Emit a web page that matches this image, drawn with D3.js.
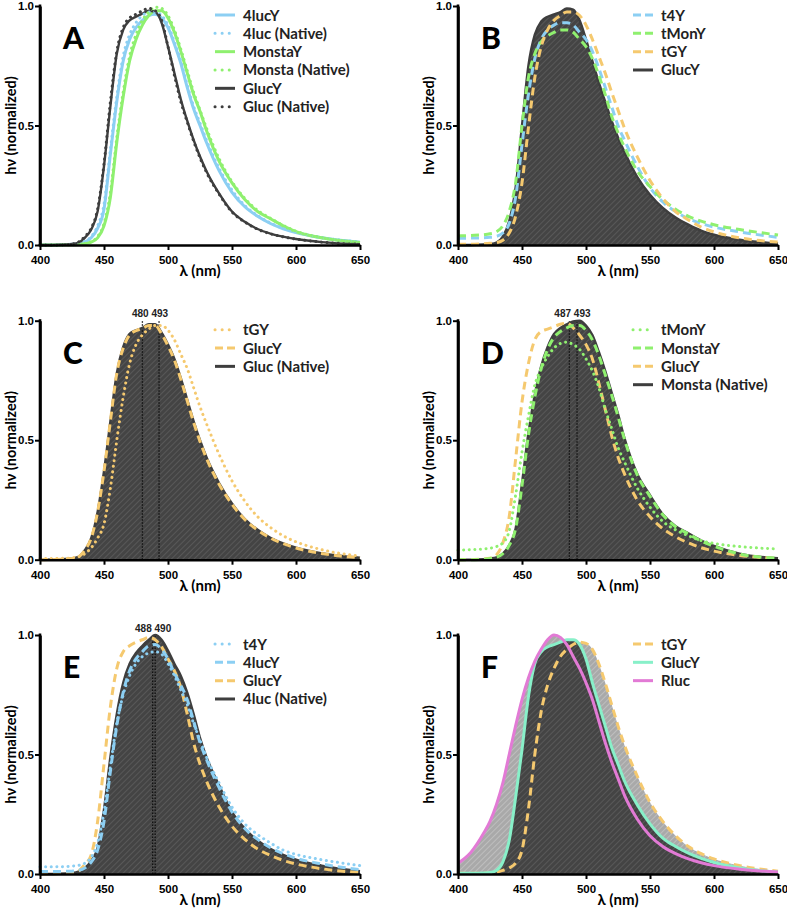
<!DOCTYPE html>
<html><head><meta charset="utf-8">
<script src="https://cdn.jsdelivr.net/npm/d3@7"></script>
<style>body{margin:0;background:#fff;} svg{display:block;}</style>
</head><body><svg id="chart" width="787" height="914"></svg>
<script>
// ---- data ----
const wavelengths = [400,410,420,425,430,435,440,445,450,455,460,465,470,475,480,485,490,495,500,505,510,515,520,525,530,540,550,560,570,580,590,600,620,650];
const xTicks = [400,450,500,550,600,650];
const yTicks = [0,0.5,1.0];
const panelLetters = ["A","B","C","D","E","F"];

// Panel A
const A_4lucY      = [0,0,0.002,0.003,0.005,0.012,0.03,0.07,0.15,0.38,0.6,0.77,0.86,0.91,0.94,0.96,0.965,0.95,0.91,0.84,0.76,0.66,0.57,0.5,0.43,0.31,0.22,0.16,0.12,0.09,0.068,0.052,0.03,0.012];
const A_4lucNative = [0,0,0.002,0.003,0.006,0.015,0.035,0.08,0.17,0.4,0.62,0.79,0.88,0.93,0.96,0.975,0.975,0.96,0.92,0.85,0.77,0.67,0.58,0.51,0.44,0.32,0.23,0.165,0.123,0.092,0.07,0.054,0.031,0.013];
const A_MonstaY    = [0,0,0.001,0.001,0.002,0.005,0.012,0.03,0.08,0.2,0.43,0.62,0.77,0.86,0.92,0.96,0.98,0.98,0.95,0.89,0.81,0.72,0.63,0.56,0.48,0.35,0.26,0.19,0.14,0.11,0.08,0.056,0.03,0.01];
const A_MonstaNative = [0,0,0.001,0.001,0.003,0.006,0.014,0.035,0.09,0.22,0.45,0.64,0.79,0.88,0.94,0.975,0.995,0.99,0.96,0.9,0.82,0.73,0.64,0.565,0.49,0.36,0.265,0.195,0.145,0.112,0.082,0.058,0.031,0.011];
const A_GlucY      = [0,0,0.002,0.004,0.01,0.03,0.065,0.14,0.33,0.58,0.8,0.9,0.94,0.955,0.968,0.98,0.975,0.93,0.83,0.72,0.61,0.52,0.44,0.37,0.31,0.215,0.14,0.097,0.067,0.048,0.035,0.025,0.012,0.003];
const A_GlucNative = [0,0,0.002,0.004,0.012,0.035,0.07,0.15,0.34,0.6,0.81,0.91,0.95,0.965,0.98,0.99,0.98,0.94,0.83,0.71,0.6,0.515,0.435,0.365,0.305,0.212,0.138,0.096,0.066,0.047,0.034,0.025,0.012,0.003];

// Panel B
const B_t4Y   = [0.028,0.029,0.03,0.032,0.036,0.05,0.09,0.2,0.42,0.63,0.78,0.86,0.9,0.92,0.93,0.93,0.92,0.89,0.86,0.81,0.74,0.66,0.58,0.5,0.44,0.33,0.24,0.18,0.14,0.11,0.09,0.075,0.055,0.032];
const B_tMonY = [0.038,0.04,0.043,0.047,0.055,0.08,0.14,0.26,0.5,0.7,0.8,0.85,0.875,0.89,0.9,0.9,0.89,0.86,0.83,0.78,0.71,0.63,0.54,0.47,0.41,0.31,0.245,0.19,0.15,0.12,0.1,0.085,0.065,0.042];
const B_tGY   = [0.003,0.003,0.005,0.007,0.01,0.02,0.05,0.12,0.26,0.49,0.7,0.83,0.9,0.94,0.96,0.975,0.975,0.96,0.92,0.86,0.79,0.72,0.64,0.565,0.49,0.37,0.27,0.195,0.14,0.105,0.075,0.055,0.03,0.012];
const B_GlucY = [0,0,0.002,0.004,0.01,0.035,0.1,0.24,0.5,0.75,0.88,0.935,0.955,0.965,0.975,0.99,0.985,0.94,0.86,0.77,0.68,0.6,0.52,0.45,0.39,0.285,0.21,0.155,0.115,0.085,0.06,0.043,0.022,0.006];

// Panel C
const C_tGY        = [0.005,0.005,0.006,0.008,0.012,0.025,0.05,0.09,0.15,0.3,0.5,0.68,0.82,0.9,0.94,0.965,0.98,0.98,0.96,0.92,0.86,0.8,0.72,0.64,0.57,0.44,0.33,0.245,0.18,0.135,0.1,0.075,0.042,0.015];
const C_GlucY      = [0,0.001,0.003,0.005,0.012,0.04,0.09,0.2,0.37,0.58,0.78,0.885,0.94,0.958,0.968,0.98,0.98,0.945,0.895,0.835,0.755,0.665,0.575,0.495,0.425,0.315,0.232,0.168,0.124,0.091,0.067,0.049,0.026,0.008];
const C_GlucNative = [0,0.001,0.003,0.005,0.012,0.04,0.09,0.2,0.37,0.58,0.78,0.89,0.945,0.96,0.97,0.985,0.985,0.95,0.9,0.84,0.76,0.67,0.58,0.5,0.43,0.32,0.235,0.17,0.125,0.092,0.068,0.05,0.027,0.008];
const C_peaks = [480,493];

// Panel D
const D_tMonY   = [0.04,0.042,0.045,0.048,0.055,0.07,0.12,0.27,0.45,0.6,0.73,0.8,0.85,0.885,0.905,0.91,0.9,0.88,0.84,0.79,0.72,0.63,0.55,0.47,0.41,0.3,0.22,0.16,0.125,0.1,0.08,0.068,0.055,0.045];
const D_MonstaY = [0,0,0.002,0.005,0.01,0.025,0.06,0.13,0.31,0.52,0.68,0.8,0.88,0.93,0.955,0.97,0.98,0.98,0.96,0.92,0.855,0.775,0.69,0.6,0.505,0.355,0.265,0.188,0.138,0.108,0.078,0.056,0.024,0.006];
const D_GlucY   = [0,0.001,0.003,0.006,0.02,0.07,0.18,0.42,0.66,0.82,0.92,0.955,0.965,0.975,0.985,0.99,0.97,0.94,0.9,0.84,0.74,0.63,0.52,0.43,0.36,0.25,0.18,0.13,0.096,0.07,0.05,0.036,0.018,0.005];
const D_MonstaNative = [0,0,0.002,0.005,0.01,0.025,0.06,0.13,0.32,0.53,0.69,0.81,0.89,0.945,0.97,0.985,0.997,1.0,0.98,0.94,0.87,0.79,0.7,0.61,0.51,0.36,0.27,0.19,0.14,0.11,0.08,0.058,0.025,0.006];
const D_peaks = [487,493];

// Panel E
const E_t4Y   = [0.03,0.03,0.031,0.033,0.036,0.045,0.07,0.13,0.26,0.45,0.63,0.75,0.83,0.88,0.91,0.925,0.93,0.92,0.88,0.83,0.77,0.71,0.63,0.56,0.49,0.38,0.28,0.21,0.165,0.13,0.1,0.082,0.06,0.035];
const E_4lucY = [0.01,0.01,0.011,0.012,0.015,0.025,0.05,0.1,0.22,0.43,0.62,0.76,0.85,0.9,0.93,0.955,0.96,0.94,0.9,0.84,0.79,0.73,0.64,0.55,0.48,0.36,0.26,0.19,0.145,0.11,0.085,0.066,0.042,0.018];
const E_GlucY = [0,0.001,0.003,0.005,0.012,0.04,0.08,0.22,0.46,0.7,0.86,0.93,0.955,0.97,0.98,0.99,0.98,0.95,0.9,0.85,0.78,0.67,0.55,0.46,0.39,0.28,0.2,0.145,0.105,0.078,0.057,0.042,0.022,0.006];
const E_4lucNative = [0,0,0.002,0.004,0.01,0.025,0.055,0.11,0.27,0.49,0.67,0.8,0.88,0.925,0.955,0.98,1.0,0.98,0.935,0.88,0.83,0.76,0.67,0.57,0.49,0.37,0.26,0.19,0.14,0.105,0.08,0.06,0.035,0.012];
const E_peaks = [488,490];

// Panel F
const F_tGY   = [0.003,0.003,0.004,0.005,0.008,0.015,0.025,0.045,0.1,0.27,0.5,0.68,0.79,0.86,0.91,0.94,0.96,0.97,0.965,0.94,0.88,0.8,0.71,0.62,0.54,0.41,0.3,0.22,0.16,0.115,0.085,0.063,0.035,0.012];
const F_GlucY = [0.003,0.003,0.004,0.006,0.015,0.05,0.14,0.32,0.52,0.74,0.88,0.93,0.95,0.96,0.97,0.98,0.98,0.96,0.9,0.8,0.71,0.62,0.53,0.46,0.39,0.29,0.21,0.15,0.115,0.087,0.065,0.048,0.025,0.008];
const F_Rluc  = [0.045,0.09,0.17,0.22,0.29,0.38,0.5,0.62,0.73,0.82,0.89,0.94,0.98,1.0,0.99,0.96,0.91,0.86,0.8,0.73,0.64,0.55,0.47,0.4,0.33,0.23,0.16,0.115,0.085,0.063,0.047,0.035,0.02,0.008];

// ---- styles ----
const COLORS = {blue:"#8ccff3", green:"#8ff06f", yellow:"#f5c96f", dark:"#3e3e3e", teal:"#88f0c9", pink:"#e27ad5"};
const DASH = {solid:null, dashed:"8,5", dotted:"0.1,5.5"};

const panels = [
  {letter:panelLetters[0], col:0, row:0, fills:[], peaks:[],
   series:[
     {name:"4lucY", data:A_4lucY, color:"blue", style:"solid"},
     {name:"MonstaY", data:A_MonstaY, color:"green", style:"solid"},
     {name:"GlucY", data:A_GlucY, color:"dark", style:"solid"},
     {name:"4luc (Native)", data:A_4lucNative, color:"blue", style:"dotted"},
     {name:"Monsta (Native)", data:A_MonstaNative, color:"green", style:"dotted"},
     {name:"Gluc (Native)", data:A_GlucNative, color:"dark", style:"dotted"}],
   legend:["4lucY","4luc (Native)","MonstaY","Monsta (Native)","GlucY","Gluc (Native)"]},
  {letter:panelLetters[1], col:1, row:0, fills:[{data:B_GlucY, kind:"dark"}], peaks:[],
   series:[
     {name:"GlucY", data:B_GlucY, color:"dark", style:"solid"},
     {name:"t4Y", data:B_t4Y, color:"blue", style:"dashed"},
     {name:"tMonY", data:B_tMonY, color:"green", style:"dashed"},
     {name:"tGY", data:B_tGY, color:"yellow", style:"dashed"}],
   legend:["t4Y","tMonY","tGY","GlucY"]},
  {letter:panelLetters[2], col:0, row:1, fills:[{data:C_GlucNative, kind:"dark"}], peaks:C_peaks,
   series:[
     {name:"Gluc (Native)", data:C_GlucNative, color:"dark", style:"solid"},
     {name:"GlucY", data:C_GlucY, color:"yellow", style:"dashed"},
     {name:"tGY", data:C_tGY, color:"yellow", style:"dotted"}],
   legend:["tGY","GlucY","Gluc (Native)"]},
  {letter:panelLetters[3], col:1, row:1, fills:[{data:D_MonstaNative, kind:"dark"}], peaks:D_peaks,
   series:[
     {name:"Monsta (Native)", data:D_MonstaNative, color:"dark", style:"solid"},
     {name:"GlucY", data:D_GlucY, color:"yellow", style:"dashed"},
     {name:"MonstaY", data:D_MonstaY, color:"green", style:"dashed"},
     {name:"tMonY", data:D_tMonY, color:"green", style:"dotted"}],
   legend:["tMonY","MonstaY","GlucY","Monsta (Native)"]},
  {letter:panelLetters[4], col:0, row:2, fills:[{data:E_4lucNative, kind:"dark"}], peaks:E_peaks,
   series:[
     {name:"4luc (Native)", data:E_4lucNative, color:"dark", style:"solid"},
     {name:"GlucY", data:E_GlucY, color:"yellow", style:"dashed"},
     {name:"4lucY", data:E_4lucY, color:"blue", style:"dashed"},
     {name:"t4Y", data:E_t4Y, color:"blue", style:"dotted"}],
   legend:["t4Y","4lucY","GlucY","4luc (Native)"]},
  {letter:panelLetters[5], col:1, row:2,
   fills:[{data:F_Rluc, kind:"light"},{data:F_tGY, kind:"light"},{data:F_GlucY, kind:"dark"}], peaks:[],
   series:[
     {name:"tGY", data:F_tGY, color:"yellow", style:"dashed"},
     {name:"GlucY", data:F_GlucY, color:"teal", style:"solid"},
     {name:"Rluc", data:F_Rluc, color:"pink", style:"solid"}],
   legend:["tGY","GlucY","Rluc"]}
];

const colX = [40, 458];
const rowTop = [6, 320.7, 635];
const plotW = 320, plotH = 239;

const svg = d3.select("#chart");
const defs = svg.append("defs");
function hatch(id, bg, fg){
  const p = defs.append("pattern").attr("id", id).attr("patternUnits","userSpaceOnUse")
    .attr("width",4).attr("height",4).attr("patternTransform","rotate(45)");
  p.append("rect").attr("width",4).attr("height",4).attr("fill",bg);
  p.append("line").attr("x1",0).attr("y1",0).attr("x2",0).attr("y2",4)
    .attr("stroke",fg).attr("stroke-width",1.6);
}
hatch("hatchDark", "#444444", "#5d5d5d");
hatch("hatchLight", "#a9a9a9", "#c4c4c4");

const tickFont = "'Liberation Sans', Arial, sans-serif";
const labelFont = "Lato, 'Open Sans', sans-serif";

panels.forEach(p => {
  const x0 = colX[p.col], top = rowTop[p.row], bottom = top + plotH;
  const x = d3.scaleLinear().domain([400,650]).range([x0, x0 + plotW]);
  const y = d3.scaleLinear().domain([0,1]).range([bottom, top]);
  const g = svg.append("g");
  const pts = d => d.map((v,i) => [wavelengths[i], v]);

  // fills
  p.fills.forEach(f => {
    const area = d3.area().x(d => x(d[0])).y0(y(0)).y1(d => y(d[1])).curve(d3.curveMonotoneX);
    g.append("path").attr("d", area(pts(f.data)))
      .attr("fill", f.kind === "dark" ? "url(#hatchDark)" : "url(#hatchLight)");
  });

  // peak lines
  p.peaks.forEach(pk => {
    g.append("line").attr("x1", x(pk)).attr("x2", x(pk)).attr("y1", y(0)).attr("y2", y(1))
      .attr("stroke", "#111").attr("stroke-width", 1.3).attr("stroke-dasharray", "1.5,1.5");
  });
  if (p.peaks.length) {
    const mid = (x(p.peaks[0]) + x(p.peaks[1])) / 2;
    p.peaks.forEach((pk, i) => {
      g.append("text").attr("x", i === 0 ? mid - 10.5 : mid + 9).attr("y", top - 3.5)
        .attr("text-anchor","middle").attr("font-family", tickFont).attr("font-size", 10)
        .attr("font-weight", 600).attr("fill","#222").text(pk);
    });
  }

  // lines
  const line = d3.line().x(d => x(d[0])).y(d => y(d[1])).curve(d3.curveMonotoneX);
  p.series.forEach(s => {
    g.append("path").attr("d", line(pts(s.data))).attr("fill","none")
      .attr("stroke", COLORS[s.color])
      .attr("stroke-width", s.color === "dark" ? (s.style === "dotted" ? 3 : 2.4) : 3)
      .attr("stroke-linecap", s.style === "dotted" ? "round" : "butt")
      .attr("stroke-dasharray", DASH[s.style]);
  });

  // axes
  const ya = g.append("g").attr("transform", `translate(${x0},0)`)
    .call(d3.axisLeft(y).tickValues(yTicks).tickFormat(d3.format(".1f")).tickSize(5).tickSizeOuter(0).tickPadding(1));
  const xa = g.append("g").attr("transform", `translate(0,${bottom})`)
    .call(d3.axisBottom(x).tickValues(xTicks).tickFormat(d3.format("d")).tickSize(5).tickSizeOuter(0).tickPadding(6));
  [ya, xa].forEach(a => {
    a.select(".domain").attr("stroke","#000").attr("stroke-width",2.6);
    a.selectAll(".tick line").attr("stroke","#000").attr("stroke-width",2);
    a.selectAll(".tick text").attr("font-family", tickFont).attr("font-weight","bold")
      .attr("font-size", 11.5).attr("fill","#000");
  });
  g.append("line").attr("x1",x0).attr("x2",x0).attr("y1",bottom+1.3).attr("y2",top-1.5)
    .attr("stroke","#000").attr("stroke-width",2.6);

  // axis titles
  g.append("text").attr("x", x0 + plotW/2).attr("y", bottom + 31).attr("text-anchor","middle")
    .attr("font-family", labelFont).attr("font-weight","bold").attr("font-size",15).text("λ (nm)");
  g.append("text").attr("transform", `translate(${x0 - 24},${(top+bottom)/2}) rotate(-90)`)
    .attr("text-anchor","middle").attr("font-family", labelFont).attr("font-weight","bold")
    .attr("font-size",14.5).text("hν (normalized)");

  // panel letter
  g.append("text").attr("x", x0 + 23).attr("y", top + 43).attr("font-family", labelFont)
    .attr("font-weight", 900).attr("font-size", 30).text(p.letter);

  // legend
  p.legend.forEach((name, i) => {
    const s = p.series.find(d => d.name === name);
    const cy = top + 9 + i * 18.33;
    g.append("line").attr("x1", x0 + 175).attr("x2", x0 + 195).attr("y1", cy).attr("y2", cy)
      .attr("stroke", COLORS[s.color]).attr("stroke-width", 3)
      .attr("stroke-linecap", s.style === "dotted" ? "round" : "butt")
      .attr("stroke-dasharray", s.style === "dashed" ? "8,4" : s.style === "dotted" ? "0.1,7" : null);
    g.append("text").attr("x", x0 + 203).attr("y", cy + 5.5).attr("font-family", labelFont)
      .attr("font-weight","bold").attr("font-size", 15).attr("fill","#222").text(name);
  });
});
</script></body></html>
